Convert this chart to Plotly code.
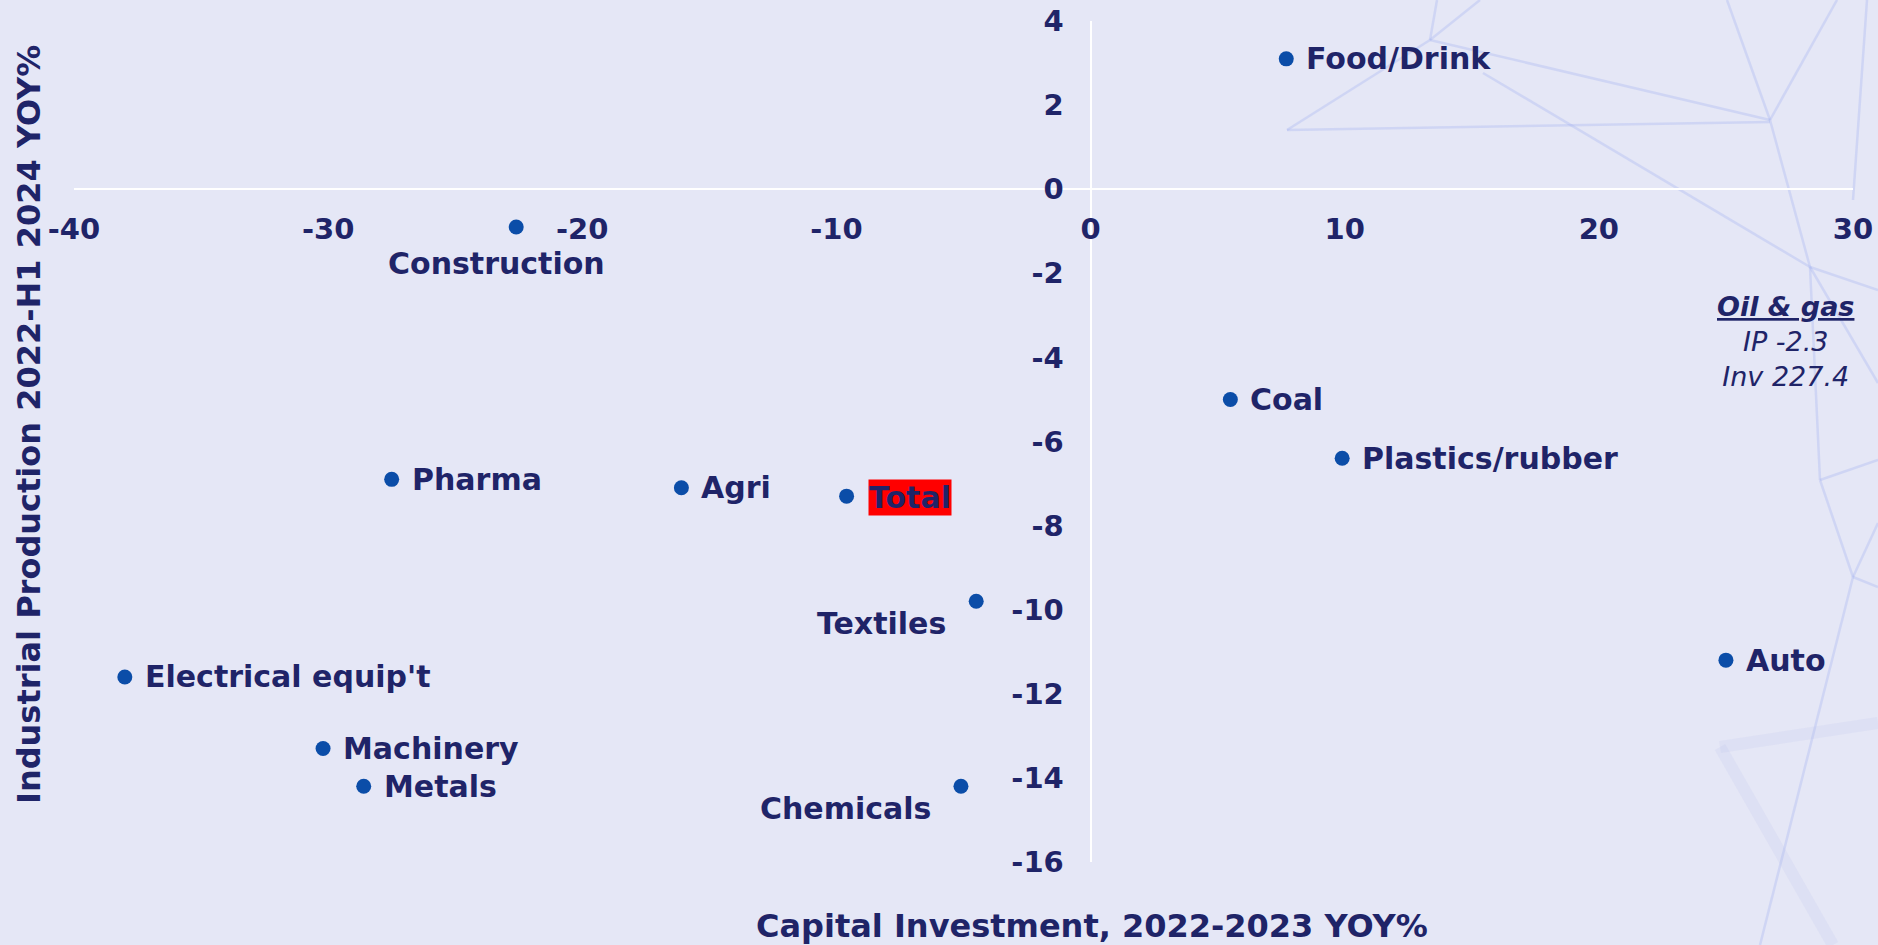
import plotly.graph_objects as go

# ---- data ----
sectors = ["Food/Drink", "Construction", "Coal", "Plastics/rubber", "Pharma", "Agri",
           "Total", "Textiles", "Auto", "Electrical equip't", "Machinery", "Metals", "Chemicals"]
investment = [7.7, -22.6, 5.5, 9.9, -27.5, -16.1, -9.6, -4.5, 25.0, -38.0, -30.2, -28.6, -5.1]
production = [3.1, -0.9, -5.0, -6.4, -6.9, -7.1, -7.3, -9.8, -11.2, -11.6, -13.3, -14.2, -14.2]
label_side = ["right", "below", "right", "right", "right", "right",
              "total", "belowleft", "right", "right", "right", "right", "belowleft"]

x_ticks = [-40, -30, -20, -10, 0, 10, 20, 30]
y_ticks = [4, 2, 0, -2, -4, -6, -8, -10, -12, -14, -16]

oil_gas_title = "Oil & gas"
oil_gas_ip = "IP -2.3"
oil_gas_inv = "Inv 227.4"

x_title = "Capital Investment, 2022-2023 YOY%"
y_title = "Industrial Production 2022-H1 2024 YOY%"

# ---- styles ----
BG = "#E5E7F6"
NAVY = "#1F2468"
DOT = "#0B4DA8"
FONT = "DejaVu Sans"

W, H = 1878, 945
ML, MR, MT, MB = 74, 25, 21, 83

fig = go.Figure()
fig.add_trace(go.Scatter(
    x=investment, y=production, mode="markers",
    marker=dict(size=15, color=DOT), hoverinfo="text", text=sectors, showlegend=False,
))

annotations = []
for name, xv, yv, side in zip(sectors, investment, production, label_side):
    base = dict(x=xv, y=yv, xref="x", yref="y", text=name, showarrow=False,
                font=dict(family=FONT, size=30, color=NAVY, weight="bold"))
    if side == "right":
        base.update(xanchor="left", yanchor="middle", xshift=18, yshift=0)
    elif side == "below":
        base.update(xanchor="center", yanchor="middle", xshift=-20, yshift=-36)
    elif side == "belowleft":
        base.update(xanchor="right", yanchor="middle", xshift=-28, yshift=-22)
    elif side == "total":
        base.update(xanchor="left", yanchor="middle", xshift=21, yshift=-1,
                    bgcolor="#FF0000", borderpad=0)
    annotations.append(base)

pw = W - ML - MR
ph = H - MT - MB

def px(X):
    return (X - ML) / pw

def py(Y):
    return (H - MB - Y) / ph

annotations.append(dict(
    x=px(1785), y=py(341), xref="paper", yref="paper", showarrow=False,
    xanchor="center", yanchor="middle", align="center",
    text=f"<b><i><u>{oil_gas_title}</u></i></b><br><i>{oil_gas_ip}</i><br><i>{oil_gas_inv}</i>",
    font=dict(family=FONT, size=27, color=NAVY),
))
annotations.append(dict(
    x=px(1092), y=py(926), xref="paper", yref="paper", showarrow=False,
    xanchor="center", yanchor="middle", text=x_title,
    font=dict(family=FONT, size=32, color=NAVY, weight="bold"),
))
annotations.append(dict(
    x=px(29), y=py(425), xref="paper", yref="paper", showarrow=False,
    xanchor="center", yanchor="middle", text=y_title, textangle=-90,
    font=dict(family=FONT, size=32, color=NAVY, weight="bold"),
))

# decorative faint network lines (background ornament)
segs = [
    ((1287, 130), (1430, 40)), ((1430, 40), (1437, 0)), ((1430, 40), (1480, 0)),
    ((1430, 40), (1770, 120)), ((1287, 130), (1770, 122)),
    ((1483, 73), (1810, 267)), ((1770, 120), (1727, 0)), ((1770, 120), (1837, 0)),
    ((1770, 120), (1810, 267)), ((1810, 267), (1878, 290)), ((1810, 267), (1878, 383)),
    ((1810, 267), (1820, 480)), ((1820, 480), (1878, 460)), ((1820, 480), (1853, 577)),
    ((1853, 577), (1878, 523)), ((1853, 577), (1878, 587)), ((1853, 577), (1760, 945)),
    ((1867, 0), (1853, 200)),
]
shapes = []
for (x0, y0), (x1, y1) in segs:
    shapes.append(dict(type="line", xref="paper", yref="paper",
                       x0=px(x0), y0=py(y0), x1=px(x1), y1=py(y1),
                       line=dict(color="rgba(165,180,240,0.35)", width=2.5), layer="below"))
blur = [((1720, 747), (1878, 723)), ((1720, 747), (1833, 945))]
for (x0, y0), (x1, y1) in blur:
    shapes.append(dict(type="line", xref="paper", yref="paper",
                       x0=px(x0), y0=py(y0), x1=px(x1), y1=py(y1),
                       line=dict(color="rgba(175,185,235,0.14)", width=12), layer="below"))

tickfont = dict(family=FONT, size=29, color=NAVY, weight="bold")
fig.update_layout(
    width=W, height=H,
    margin=dict(l=ML, r=MR, t=MT, b=MB),
    paper_bgcolor=BG, plot_bgcolor=BG,
    annotations=annotations, shapes=shapes,
    xaxis=dict(range=[-40, 30], tickvals=x_ticks, ticktext=[str(v) for v in x_ticks],
               showgrid=False, zeroline=False, showline=True, linecolor="white", linewidth=2,
               anchor="free", position=16/20, ticks="", ticklabelstandoff=14,
               automargin=False, tickfont=tickfont),
    yaxis=dict(range=[-16, 4], tickvals=y_ticks, ticktext=[str(v) for v in y_ticks],
               showgrid=False, zeroline=False, showline=True, linecolor="white", linewidth=2,
               anchor="free", position=40/70, ticks="", ticklabelstandoff=20,
               automargin=False, tickfont=tickfont),
)

fig.write_html(
    "out.html",
    config={"displayModeBar": False},
    post_script=("document.body.style.margin='0';"
                 "document.documentElement.style.overflow='hidden';"
                 "document.body.style.background='" + BG + "';"),
)
